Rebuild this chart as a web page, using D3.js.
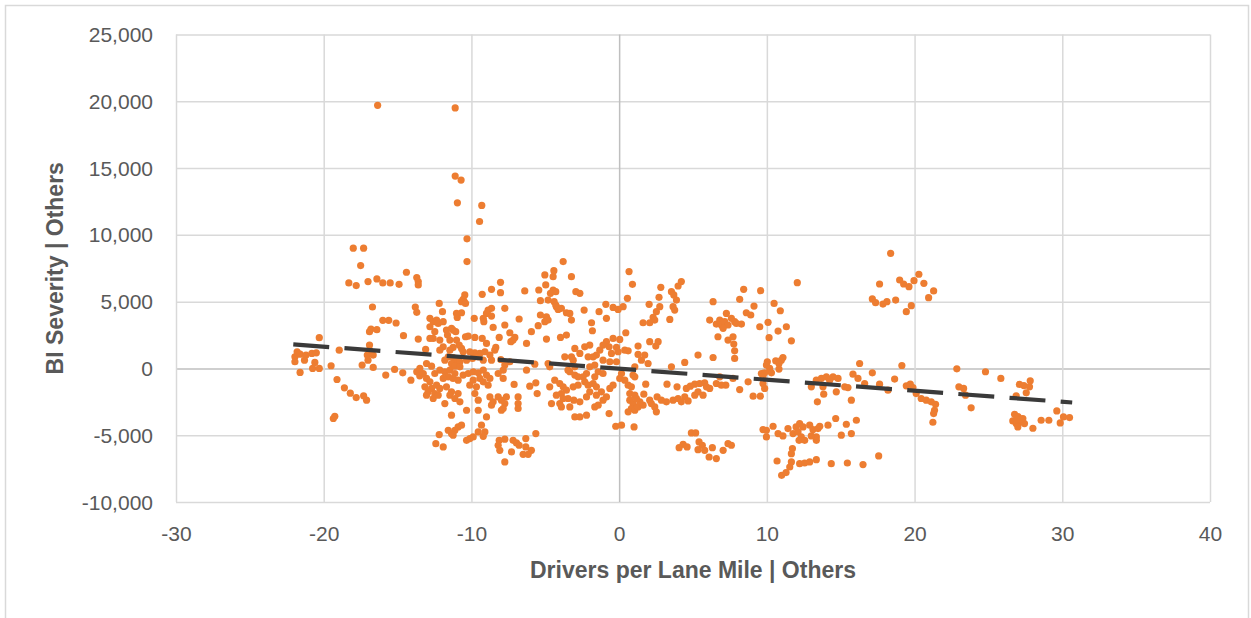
<!DOCTYPE html>
<html>
<head>
<meta charset="utf-8">
<script src="https://cdn.jsdelivr.net/npm/d3@7"></script>
<style>
  html, body { margin: 0; padding: 0; background: #ffffff; }
  svg { display: block; }
</style>
</head>
<body>
<svg id="chart" width="1251" height="618"></svg>
<script>
// Axis ticks
const xTicks = [-30, -20, -10, 0, 10, 20, 30, 40];
const yTicks = [-10000, -5000, 0, 5000, 10000, 15000, 20000, 25000];

// Axis titles
const xTitle = "Drivers per Lane Mile | Others";
const yTitle = "BI Severity  |  Others";

// Linear trend line endpoints [drivers per lane mile, BI severity]
const trendX = [-22.06, 30.67];
const trendY = [1800, -2550];

// Observations: [drivers per lane mile, BI severity]
const westPoints = [
  [-18.0,9000],[-17.3,9000],[-17.5,7700],[-18.3,6400],[-17.8,6200],[-17.0,6500],[-16.4,6700],[-16.0,6400],
  [-15.5,6400],[-14.9,6300],[-14.4,7200],[-13.7,6800],[-13.6,6500],[-13.6,6250],[-16.7,4600],[-13.8,4600],
  [-13.7,4200],[-16.0,3600],[-15.6,3600],[-15.1,3400],[-16.8,2950],[-16.9,2750],[-16.4,2900],[-14.6,2450],
  [-13.6,2200],[-20.3,2300],[-21.8,1250],[-21.95,870],[-21.95,500],[-21.6,1070],[-21.2,1000],[-21.3,620],
  [-20.8,1120],[-20.5,1170],[-20.6,450],[-20.75,0],[-20.3,0],[-21.6,-300],[-19.5,200],[-18.95,1370],
  [-16.9,1750],[-16.9,1370],[-17.05,1000],[-16.65,1000],[-17.0,620],[-17.4,250],[-16.65,75],[-15.8,-500],
  [-15.2,-75],[-14.65,-330],[-14.1,-880],[-13.7,-250],[-13.5,-550],[-13.1,1420],[-19.1,-830],[-18.6,-1450],
  [-18.2,-1850],[-17.8,-2180],[-17.3,-2050],[-17.1,-2380],[-19.35,-3750],[-19.25,-3580],
  [-16.35,19700],[-11.1,19500],[-11.1,14400],[-10.7,14100],[-10.95,12400],[-9.3,12200],[-9.45,11000],
  [-10.3,9700],[-10.3,8000]
];

const centralWestPoints = [
  [-3.79,8000],[-4.42,7320],[-5.03,7000],[-4.47,6870],[-8.03,6450],[-8.64,5920],[-8.03,5670],[-9.27,5550],
  [-6.39,5800],[-5.44,5870],[-4.97,6250],[-4.47,5870],[-4.29,5750],[-4.65,5620],[-10.45,5500],[-10.56,5170],
  [-10.49,5000],[-10.67,5000],[-10.4,4870],[-12.18,4870],[-4.81,5120],[-5.33,5070],[-4.4,5000],[-4.25,4620],
  [-4.13,4420],[-4.29,4750],[-3.91,4500],[-7.74,4500],[-8.64,4500],[-8.87,4370],[-8.98,4120],[-11.96,4250],
  [-10.67,4170],[-10.96,3820],[-11.01,4120],[-9.81,3750],[-9.2,3750],[-8.64,3920],[-9.16,3500],[-6.77,3700],
  [-5.33,4000],[-4.92,3870],[-5.03,3500],[-4.81,3620],[-3.57,4170],[-12.81,3750],[-12.59,3500],[-12.25,3370],
  [-11.91,3500],[-12.36,3620],[-11.69,2870],[-11.35,3000],[-11.06,2750],[-11.24,2870],[-8.53,3070],[-7.74,3250],
  [-5.48,3200],[-5.94,2750],[-4.92,2200],[-6.27,1870],[-12.81,3120],[-12.48,2750],[-12.59,2250],[-12.81,2250],
  [-9.77,2320],[-10.4,2370],[-10.22,2420],[-9.27,2250],[-8.12,2320],[-7.4,2670],[-7.06,2320],[-7.33,2000],
  [-7.18,2120],[-3.97,2320],[-3.57,2500],[-11.62,2500],[-11.46,2120],[-12.14,2120],[-11.91,1620],[-12.14,1370],
  [-11.01,2120],[-10.83,1750],[-10.67,1500],[-11.24,1570],[-11.46,1370],[-8.98,1870],[-8.35,1570],[-8.75,1000],
  [-8.42,1370],[-9.43,1120],[-9.09,1250],[-9.77,1170],[-10.11,1250],[-10.56,1250],[-9.54,870],[-9.93,750],
  [-10.33,620],[-9.2,620],[-8.64,620],[-11.57,870],[-11.24,820],[-11.01,620],[-10.78,500],[-11.8,620],
  [-11.35,370],[-11.12,170],[-10.78,120],[-8.01,670],[-7.4,500],[-7.74,250],[-7.85,-130],[-5.71,320],
  [-6.27,-130],[-4.7,120],[-4.81,370],[-3.68,870],[-3.46,-130],[-13.04,370],[-12.7,170],[-13.26,-380],
  [-13.49,0],[-12.48,-380],[-12.14,-130],[-11.8,-250],[-11.46,-130],[-11.12,-380],[-11.57,-630],[-11.91,-750],
  [-11.24,-750],[-10.9,-880],[-10.56,-500],[-10.22,-380],[-9.88,-250],[-9.54,-330],[-9.2,-130],[-8.98,-500],
  [-9.43,-750],[-9.88,-880],[-10.11,-1250],[-9.66,-1380],[-9.2,-1000],[-8.87,-1250],[-8.75,-750],[-8.19,-380],
  [-7.85,-750],[-7.11,-1200],[-13.04,-750],[-12.81,-1000],[-13.15,-1380],[-12.7,-1500],[-12.36,-1250],[-12.14,-1500],
  [-11.69,-1380],[-11.35,-1750],[-12.48,-1880],[-12.93,-1750],[-13.04,-2000],[-12.59,-2250],[-12.25,-2000],[-11.8,-2630],
  [-11.46,-2000],[-11.12,-2250],[-10.9,-1880],[-10.78,-2500],[-6.05,-1330],[-5.64,-1080],[-5.55,-1880],[-4.7,-1380],
  [-4.36,-880],[-4.02,-1130],[-3.79,-1380],[-3.57,-1630],[-3.91,-1880],[-4.25,-2000],[-4.58,-2630],[-4.02,-2630],
  [-3.46,-2250],[-3.91,-2880],[-3.79,-2250],[-9.77,-1880],[-9.54,-2380],[-8.75,-2130],[-8.53,-2500],[-8.19,-2130],
  [-7.97,-2380],[-7.74,-2630],[-7.63,-2130],[-7.97,-3130],[-8.64,-2750],[-7.85,-3000],[-6.84,-2130],[-6.84,-2630],
  [-6.84,-3000],[-10.33,-3130],[-9.54,-3130],[-8.98,-3630],[-11.35,-3500],[-9.32,-4250],[-9.09,-4750],[-9.2,-5080],
  [-9.54,-4750],[-10.67,-4250],[-10.9,-4380],[-11.12,-4630],[-11.35,-4880],[-11.57,-4630],[-11.24,-5000],[-12.18,-4950],
  [-12.41,-5630],[-11.91,-5880],[-10.33,-5380],[-10.11,-5250],[-9.88,-5130],[-8.12,-5380],[-8.19,-5750],[-7.74,-5300],
  [-7.18,-5380],[-6.95,-5580],[-6.77,-5750],[-6.32,-5250],[-5.64,-4880],[-6.32,-5880],[-5.94,-6130],[-6.5,-6430],
  [-6.16,-6430],[-7.29,-6250],[-8.08,-6130],[-7.74,-7000]
];

const centralPoints = [
  [0.67,7250],[0.9,6300],[0.56,5250],[4.21,6500],[3.99,6170],[3.54,5750],[3.7,5500],[3.88,5120],
  [3.65,4620],[3.76,4370],[3.43,3670],[2.82,6070],[2.7,5320],[2.03,4800],[2.75,4620],[2.52,4250],
  [2.3,3820],[2.41,3620],[1.62,3420],[2.07,3420],[-3.23,6870],[-2.93,5750],[-2.66,5620],[-0.9,4800],
  [-0.41,4570],[-0.07,4420],[0.27,4620],[-1.36,4250],[-0.86,3750],[-2.37,4370],[-3.23,3620],[-3.34,4120],
  [-1.87,3420],[-1.81,2820],[0.45,2670],[2.07,2000],[2.64,2000],[2.48,1670],[1.28,1670],[-0.41,2250],
  [0.04,2170],[-0.86,2000],[-1.09,1750],[-1.31,1370],[-0.68,1620],[-0.18,1570],[-0.52,1120],[-0.07,1250],
  [0.38,1370],[0.61,1320],[-1.99,1750],[-2.33,1620],[-2.66,1120],[-3.0,1500],[-1.54,1000],[-2.1,870],
  [-1.76,870],[1.28,1050],[1.73,1000],[1.51,620],[1.96,370],[1.06,120],[-1.09,620],[-0.18,500],
  [-0.63,500],[4.44,450],[5.34,1000],[6.36,820],[3.54,120],[6.36,5000],[6.13,3620],[6.58,3320],
  [6.69,2370],[-3.23,870],[-3.11,620],[-3.0,120],[-3.34,-250],[-3.0,-500],[-2.78,-630],[-1.99,120],
  [-1.65,250],[-1.42,-250],[-1.09,-380],[-1.65,-630],[-2.21,-380],[-2.44,-630],[0.16,-380],[0.04,-750],
  [0.38,-880],[0.61,-1250],[0.83,-1380],[0.94,-500],[1.06,-630],[-3.11,-1380],[-2.78,-1250],[-2.33,-1000],
  [-2.1,-1250],[-1.76,-1130],[-1.54,-1380],[-1.99,-1750],[-2.21,-2130],[-2.66,-2500],[-3.07,-2380],[-3.34,-2880],
  [-3.0,-3630],[-2.66,-3630],[-2.21,-3500],[-1.54,-2000],[-1.2,-1750],[-0.86,-2130],[-1.65,-2880],[-1.42,-2750],
  [-1.09,-2380],[-0.63,-1500],[-0.41,-1250],[1.8,-1180],[1.67,-1930],[2.07,-2380],[2.41,-2880],[2.52,-3250],
  [2.18,-2630],[0.72,-1880],[1.06,-2000],[0.72,-2380],[0.94,-2630],[0.83,-3000],[0.61,-3250],[1.06,-3130],
  [1.28,-2880],[1.62,-2750],[1.4,-2500],[1.17,-2250],[-0.68,-3380],[3.24,-1180],[3.92,-1380],[4.55,-1500],
  [4.82,-1330],[5.12,-1180],[5.45,-1130],[5.79,-1080],[5.34,-1750],[5.68,-2000],[5.12,-2000],[5.91,-1380],
  [6.13,-1500],[6.58,-1130],[2.57,-2130],[2.86,-2380],[3.2,-2500],[3.65,-2380],[3.99,-2250],[4.44,-2130],
  [4.67,-2430],[4.21,-2500],[-0.23,-4330],[0.16,-4250],[1.01,-4380],[4.89,-4830],[5.18,-4830],[4.33,-5680],
  [4.06,-5930],[4.6,-5880],[5.41,-5500],[5.63,-5750],[5.34,-6080],[5.79,-6130],[6.09,-6630],[6.31,-5930],
  [6.58,-6750]
];

const centralEastPoints = [
  [12.06,6420],[8.43,5920],[9.58,5820],[8.16,5170],[9.13,4670],[8.61,4170],[8.91,4000],[10.49,4870],
  [10.91,4320],[7.26,4120],[6.81,3620],[6.92,3250],[7.15,3500],[7.37,3250],[7.04,3000],[7.6,3750],
  [7.82,3500],[7.94,3370],[8.28,3320],[10.08,3450],[9.52,3120],[11.32,3120],[10.76,2800],[10.15,2300],
  [11.66,2070],[7.37,2120],[7.71,2370],[7.76,1820],[7.82,1320],[7.82,750],[11.09,820],[10.98,620],
  [10.6,570],[10.82,370],[10.03,500],[9.97,250],[10.19,0],[10.82,-50],[9.63,-380],[9.85,-330],
  [10.31,-330],[9.74,-630],[6.81,-630],[7.71,-750],[8.73,-1000],[9.74,-1130],[9.85,-1500],[7.22,-1250],
  [6.92,-1250],[8.16,-1580],[9.07,-2080],[9.56,-2080],[13.35,-880],[13.69,-750],[14.03,-630],[14.48,-630],
  [14.82,-750],[14.25,-880],[13.01,-1380],[13.8,-1380],[13.85,-1930],[13.42,-2500],[14.7,-1750],[15.27,-1380],
  [15.49,-1430],[15.72,-2380],[15.83,-430],[16.17,-750],[9.74,-4580],[9.97,-4630],[10.42,-4330],[10.76,-4880],
  [11.09,-5050],[11.43,-4500],[11.77,-4880],[11.98,-4380],[12.22,-4130],[12.45,-4380],[12.11,-4750],[12.33,-5130],
  [12.9,-4250],[13.12,-4580],[13.46,-4500],[13.58,-4330],[14.14,-4250],[14.66,-3750],[15.38,-4180],[16.06,-3880],
  [12.18,-5380],[12.56,-5380],[13.35,-5380],[13.35,-5130],[13.01,-5050],[9.97,-5130],[15.04,-5000],[15.72,-4880],
  [7.37,-5630],[7.6,-5750],[7.04,-6130],[11.73,-6000],[11.66,-6380],[11.66,-7000],[11.55,-7380],[10.69,-6930],
  [12.22,-7130],[12.56,-7080],[12.9,-7000],[13.35,-6830],[14.36,-7130],[15.45,-7080],[11.0,-8000],[11.3,-7800]
];

const eastPoints = [
  [18.38,8620],[17.63,6320],[18.99,6620],[19.26,6320],[19.62,6120],[19.96,6570],[20.29,7050],[20.63,6370],
  [21.29,5800],[20.95,5300],[17.14,5200],[17.36,4920],[17.86,4820],[18.13,5000],[18.72,5120],[19.78,4700],
  [19.44,4250],[16.28,370],[17.14,-330],[16.62,-1130],[17.63,-1180],[18.2,-1630],[18.65,-800],[19.14,220],
  [19.44,-1300],[19.71,-1180],[19.89,-1430],[20.11,-1880],[20.45,-2250],[20.79,-2380],[21.13,-2500],[21.42,-2680],
  [21.35,-3130],[21.29,-3380],[21.24,-4030],[22.86,-30],[23.0,-1380],[23.32,-1500],[23.45,-2000],[23.83,-2950],
  [24.8,-250],[25.84,-750],[27.1,-1200],[27.4,-1280],[27.83,-930],[27.78,-1380],[27.56,-1830],[26.88,-2050],
  [26.77,-3430],[26.65,-3930],[26.88,-4130],[27.22,-4000],[27.33,-3750],[26.99,-4380],[27.44,-4130],[28.01,-4480],
  [28.57,-3880],[29.09,-3880],[29.63,-3180],[29.86,-4080],[30.08,-3630],[30.49,-3680],[17.57,-6550],[16.51,-7200],
  [27.0,-3600],[27.2,-3800],[26.9,-3800]
];

const observations = [].concat(westPoints, centralWestPoints, centralPoints, centralEastPoints, eastPoints);

// Layout
const svg = d3.select("#chart");
const plot = { left: 176, right: 1210, top: 34.5, bottom: 502 };
const labelColor = "#595959";
const fontFamily = "'Liberation Sans', Arial, sans-serif";

const fmt = d3.formatLocale({ decimal: ".", thousands: ",", grouping: [3], currency: ["$", ""], minus: "-" }).format(",");

const x = d3.scaleLinear().domain([-30, 40]).range([plot.left, plot.right]);
const y = d3.scaleLinear().domain([-10000, 25000]).range([plot.bottom, plot.top]);

// Outer chart frame
svg.append("rect")
  .attr("x", 5.5).attr("y", 5.5)
  .attr("width", 1243).attr("height", 700)
  .attr("fill", "#ffffff")
  .attr("stroke", "#d9d9d9")
  .attr("stroke-width", 1.5);

// Horizontal gridlines and y tick labels
const yAxis = svg.append("g")
  .attr("transform", `translate(${plot.left},0)`)
  .call(d3.axisLeft(y)
    .tickValues(yTicks)
    .tickFormat(fmt)
    .tickSizeInner(-(plot.right - plot.left))
    .tickSizeOuter(0)
    .tickPadding(23));
yAxis.select(".domain").remove();
yAxis.selectAll(".tick line")
  .attr("stroke", d => d === 0 ? "#bfbfbf" : "#d9d9d9")
  .attr("stroke-width", 1.5);
yAxis.selectAll(".tick text")
  .attr("fill", labelColor)
  .attr("font-family", fontFamily)
  .attr("font-size", 21)
  .attr("dy", "0.34em");

// Vertical gridlines and x tick labels
const xAxis = svg.append("g")
  .attr("transform", `translate(0,${plot.bottom})`)
  .call(d3.axisBottom(x)
    .tickValues(xTicks)
    .tickFormat(fmt)
    .tickSizeInner(-(plot.bottom - plot.top))
    .tickSizeOuter(0)
    .tickPadding(24));
xAxis.select(".domain").remove();
xAxis.selectAll(".tick line")
  .attr("stroke", d => d === 0 ? "#bfbfbf" : "#d9d9d9")
  .attr("stroke-width", 1.5);
xAxis.selectAll(".tick text")
  .attr("fill", labelColor)
  .attr("font-family", fontFamily)
  .attr("font-size", 21);

// Scatter points
svg.append("g")
  .selectAll("circle")
  .data(observations)
  .join("circle")
  .attr("cx", d => x(d[0]))
  .attr("cy", d => y(d[1]))
  .attr("r", 3.6)
  .attr("fill", "#ed7d31");

// Dashed linear trend line
const trendData = trendX.map((v, i) => [v, trendY[i]]);
svg.append("path")
  .datum(trendData)
  .attr("d", d3.line().x(d => x(d[0])).y(d => y(d[1])))
  .attr("fill", "none")
  .attr("stroke", "#3a3a3a")
  .attr("stroke-width", 4.2)
  .attr("stroke-dasharray", "36 15.3");

// Axis titles
svg.append("text")
  .attr("x", (plot.left + plot.right) / 2)
  .attr("y", 578)
  .attr("text-anchor", "middle")
  .attr("fill", labelColor)
  .attr("font-family", fontFamily)
  .attr("font-weight", "bold")
  .attr("font-size", 23)
  .text(xTitle);

svg.append("text")
  .attr("transform", `translate(63,${(plot.top + plot.bottom) / 2}) rotate(-90)`)
  .attr("text-anchor", "middle")
  .attr("fill", labelColor)
  .attr("font-family", fontFamily)
  .attr("font-weight", "bold")
  .attr("font-size", 23)
  .text(yTitle);
</script>
</body>
</html>
